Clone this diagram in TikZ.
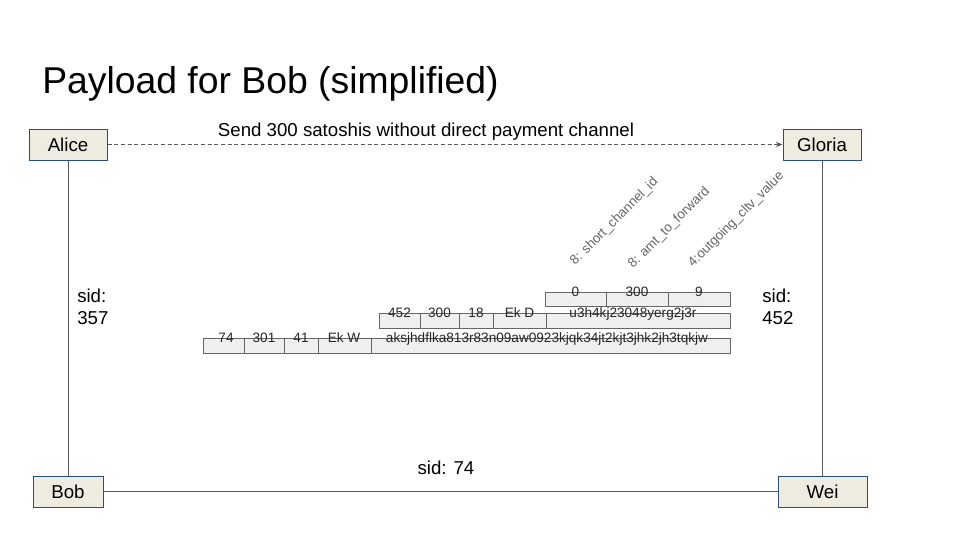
\documentclass[tikz,border=0pt]{standalone}
\usepackage{fontspec}
\setmainfont{Liberation Sans}
\usetikzlibrary{arrows.meta}
\definecolor{boxfill}{HTML}{EEECE1}
\definecolor{boxline}{HTML}{2A4E7C}
\definecolor{wire}{HTML}{595959}
\definecolor{cellfill}{HTML}{EFEFEF}
\definecolor{celledge}{HTML}{666666}
\definecolor{fieldtext}{HTML}{666666}
\tikzset{
  party/.style={draw=boxline, fill=boxfill, line width=0.75pt, inner sep=0pt,
    minimum height=23.25pt, font=\fontsize{14}{16}\selectfont},
  wireline/.style={draw=wire, line width=0.75pt},
  label14/.style={font=\fontsize{14}{16.5}\selectfont, inner sep=0pt},
  cellbox/.style={draw=celledge, fill=cellfill, line width=0.6pt},
  celltext/.style={font=\fontsize{10.2}{12}\selectfont, anchor=base, inner sep=0pt, text=black!85},
  fieldname/.style={font=\fontsize{10}{12}\selectfont, anchor=base west, rotate=45,
    inner sep=0pt, text=fieldtext},
}
\begin{document}
\begin{tikzpicture}[x=0.75pt,y=-0.75pt]
\useasboundingbox[fill=white] (0,0) rectangle (960,540);

% title
\node[anchor=base west, inner sep=0pt, font=\fontsize{28}{34}\selectfont] (title) at (42,93) {Payload for Bob (simplified)};

% the four parties
\node[party, minimum width=58.5pt] (alice) at (68,144.5) {Alice};
\node[party, minimum width=58.5pt] (gloria) at (822,144.5) {Gloria};
\node[party, minimum width=52.5pt] (bob) at (68,491.5) {Bob};
\node[party, minimum width=66.75pt] (wei) at (822.5,491.5) {Wei};

% channels
\draw[wireline] (alice.south) -- (bob.north);
\draw[wireline] (gloria.south) -- (gloria.south |- wei.north);
\draw[wireline] (bob.east) -- (wei.west);
\draw[wireline, dashed, dash pattern=on 3pt off 2pt, -{Stealth[length=5pt,width=4pt]}] (alice.east) -- (gloria.west);

% labels
\node[label14, anchor=base] (sendlbl) at (426,136) {Send 300 satoshis without direct payment channel};
\node[label14, anchor=base west, align=left] (sid357) at (77,324) {sid:\\357};
\node[label14, anchor=base west, align=left] (sid452) at (762,324) {sid:\\452};
\node[label14, anchor=base] (sid74) at (446,474) {sid: 74};

% field names of the innermost payload
\node[fieldname] (f1) at (575,266) {8: short\_channel\_id};
\node[fieldname] (f2) at (633,269) {8: amt\_to\_forward};
\node[fieldname] (f3) at (693,268) {4:outgoing\_cltv\_value};

% row 1: payload for Gloria
\foreach \a/\b in {545/606, 606/668, 668/730}
  \draw[cellbox] (\a,292) rectangle (\b,306);
\node[celltext] (r1a) at (575.5,296.5) {0};
\node[celltext] (r1b) at (637,296.5) {300};
\node[celltext] (r1c) at (699,296.5) {9};

% row 2: payload for Wei
\foreach \a/\b in {379/420, 420/459, 459/493, 493/546, 546/730}
  \draw[cellbox] (\a,313) rectangle (\b,328);
\node[celltext] (r2a) at (399.5,317.5) {452};
\node[celltext] (r2b) at (439.5,317.5) {300};
\node[celltext] (r2c) at (476,317.5) {18};
\node[celltext] (r2d) at (519.5,317.5) {Ek D};
\node[celltext] (r2e) at (633,317.5) {u3h4kj23048yerg2j3r};

% row 3: payload for Bob
\foreach \a/\b in {203/244, 244/284, 284/318, 318/371, 371/730}
  \draw[cellbox] (\a,338) rectangle (\b,353);
\node[celltext] (r3a) at (226,342.5) {74};
\node[celltext] (r3b) at (264,342.5) {301};
\node[celltext] (r3c) at (301,342.5) {41};
\node[celltext] (r3d) at (344,342.5) {Ek W};
\node[celltext] (r3e) at (547,342.5) {aksjhdflka813r83n09aw0923kjqk34jt2kjt3jhk2jh3tqkjw};
\end{tikzpicture}
\end{document}
